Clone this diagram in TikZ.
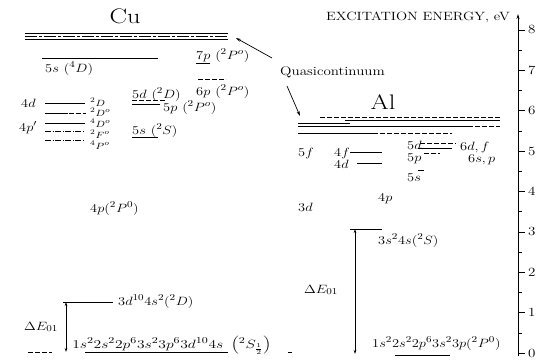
\documentclass[tikz,border=0pt]{standalone}
\usetikzlibrary{arrows.meta}
\begin{document}
\begin{tikzpicture}[x=1pt,y=-1pt,
  txt/.style={inner sep=0pt, xscale=1.2, font=\fontsize{12.5}{13}\selectfont},
  lb/.style={txt, anchor=base west},
  sm/.style={inner sep=0pt, xscale=1.2, font=\fontsize{9.5}{10}\selectfont, anchor=base west},
  ttl/.style={inner sep=0pt, xscale=1.25, font=\fontsize{21}{22}\selectfont, anchor=base},
  lvl/.style={line width=0.6pt},
  dlvl/.style={line width=0.6pt, dash pattern=on 5pt off 2pt},
  ddlvl/.style={line width=0.6pt, dash pattern=on 6pt off 1.5pt on 1pt off 1.5pt},
  arr/.style={line width=0.7pt, -{Stealth[length=5pt,width=3pt]}},
  darr/.style={line width=0.7pt, {Stealth[length=4pt,width=2.5pt]}-{Stealth[length=4pt,width=2.5pt]}},
  tick/.style={line width=0.5pt}]
\useasboundingbox (0,0) rectangle (548,362);
% titles
\node[ttl] (cu) at (125,23) {Cu};
\node[ttl] (al) at (383,109) {Al};
\node[inner sep=0pt, anchor=base, xscale=1.22, font=\fontsize{12}{13}\selectfont] (exc) at (418,20) {EXCITATION ENERGY, eV};
% axis
\coordinate (ax0) at (518,356);
\coordinate (axT) at (518,14);
\draw[line width=1pt, -{Stealth[length=5pt,width=3pt]}] (ax0) -- (axT);
\foreach \k in {0,...,8} {
  \draw[tick] (518,353-40.4*\k) -- (525,353-40.4*\k);
  \node[txt, anchor=west] (n\k) at (528,353-40.4*\k) {\k};
}
\foreach \k in {0,...,7} {
  \draw[tick] (518,353-40.4*\k-20.2) -- (522,353-40.4*\k-20.2);
}
% ---------------- Cu ----------------
\draw[lvl] (25,33) -- (228,33);
\draw[lvl, dash pattern=on 12pt off 2pt on 3pt off 2pt] (25,36) -- (228,36);
\draw[lvl] (25,39) -- (228,39);
\draw[lvl] (42,58) -- (158,58);
\node[lb] (s5D) at (45,72) {$5s\ ({}^4D)$};
\node[lb] (p7) at (196,59) {$\underline{7p}\ ({}^2P^o)$};
\draw[dlvl] (198,79) -- (226,79);
\node[lb] (p6) at (196,95) {$6p\ ({}^2P^o)$};
\node[lb] (d5) at (132,98) {$5d\ ({}^2D)$};
\draw[dlvl] (132,100) -- (166,100);
\draw[lvl] (132,104) -- (160,104);
\node[lb] (p5) at (163,111) {$5p\ ({}^2P^o)$};
\node[lb] (s5S) at (132,134) {$5s\ ({}^2S)$};
\draw[lvl] (132,137) -- (158,137);
% 4d / 4p' group
\node[lb] (d4) at (21,107) {$4d$};
\draw[lvl] (45,103) -- (85,103);
\node[sm] (tD) at (90,106) {${}^2D$};
\draw[lvl] (45,113) -- (68,113);
\draw[dlvl] (69,113) -- (86,113);
\node[sm] (tDo) at (90,116.5) {${}^2D^o$};
\node[lb] (p4p) at (19,131) {$4p'$};
\draw[lvl] (45,123) -- (85,123);
\node[sm] (fDo) at (90,127) {${}^4D^o$};
\draw[ddlvl] (45,131) -- (85,131);
\node[sm] (tFo) at (90,138) {${}^2F^o$};
\draw[ddlvl] (45,140) -- (85,140);
\node[sm] (fPo) at (90,149) {${}^4P^o$};
\node[lb] (p4) at (90,212) {$4p({}^2P^0)$};
% ground region
\draw[lvl] (63,302) coordinate (cuD) -- (113,302);
\node[lb] (cuDl) at (118,305) {$3d^{10}4s^2({}^2D)$};
\draw[lvl] (85,352) -- (228,352);
\draw[dlvl] (28,352) -- (52,352);
\coordinate (cuG) at (66,352);
\coordinate (cuDa) at (66,302);
\draw[darr] (cuDa) -- (cuG);
\node[lb] (cuE) at (24,330) {$\Delta E_{01}$};
\node[lb, xscale=1.08] (cuGl) at (72,348) {$1s^22s^22p^63s^23p^63d^{10}4s\ \left({}^2S_{\frac12}\right)$};
% ---------------- Quasicontinuum ----------------
\node[lb] (qc) at (280,75) {Quasicontinuum};
\coordinate (cuq) at (236,38);
\coordinate (alq) at (300,116);
\draw[arr] (272,58) -- (cuq);
\draw[arr] (287,86) -- (alq);
% ---------------- Al ----------------
\draw[dlvl] (320,117) -- (500,117);
\draw[lvl] (345,120) -- (500,120);
\draw[lvl] (298,123) -- (350,123);
\draw[lvl] (298,126) -- (470,126);
\draw[dlvl] (440,126) -- (500,126);
\draw[lvl] (298,133) -- (378,133);
\draw[dlvl] (380,133) -- (452,133);
\node[lb] (al5f) at (298,156) {$5f$};
\node[lb] (al4f) at (334,156) {$4f$};
\draw[lvl] (350,152) -- (382,152);
\node[lb] (al4d) at (334,168) {$4d$};
\draw[lvl] (357,163) -- (382,163);
\node[lb] (al5d) at (407,149) {$5d$};
\draw[dlvl] (420,143) -- (456,143);
\draw[lvl] (418,148) -- (452,148);
\node[lb] (al6d) at (460,150) {$6d,f$};
\node[lb] (al5p) at (407,161) {$5p$};
\draw[dlvl] (424,153) -- (440,153);
\node[lb] (al6s) at (468,162) {$6s,p$};
\draw[lvl] (418,170) -- (424,170);
\node[lb] (al5s) at (407,181) {$5s$};
\node[lb] (al3d) at (298,211) {$3d$};
\node[lb] (al4p) at (378,201) {$4p$};
\draw[lvl] (350,229) -- (382,229);
\coordinate (alS) at (355,229);
\coordinate (alG) at (355,354);
\draw[darr] (alS) -- (alG);
\node[lb] (alSl) at (378,244) {$3s^24s({}^2S)$};
\node[lb] (alE) at (304,293) {$\Delta E_{01}$};
\node[lb] (alGl) at (372,347) {$1s^22s^22p^63s^23p({}^2P^0)$};
\draw[lvl] (395,355) -- (450,355);
\draw[lvl] (288,352) -- (292,352);
\end{tikzpicture}
\end{document}
